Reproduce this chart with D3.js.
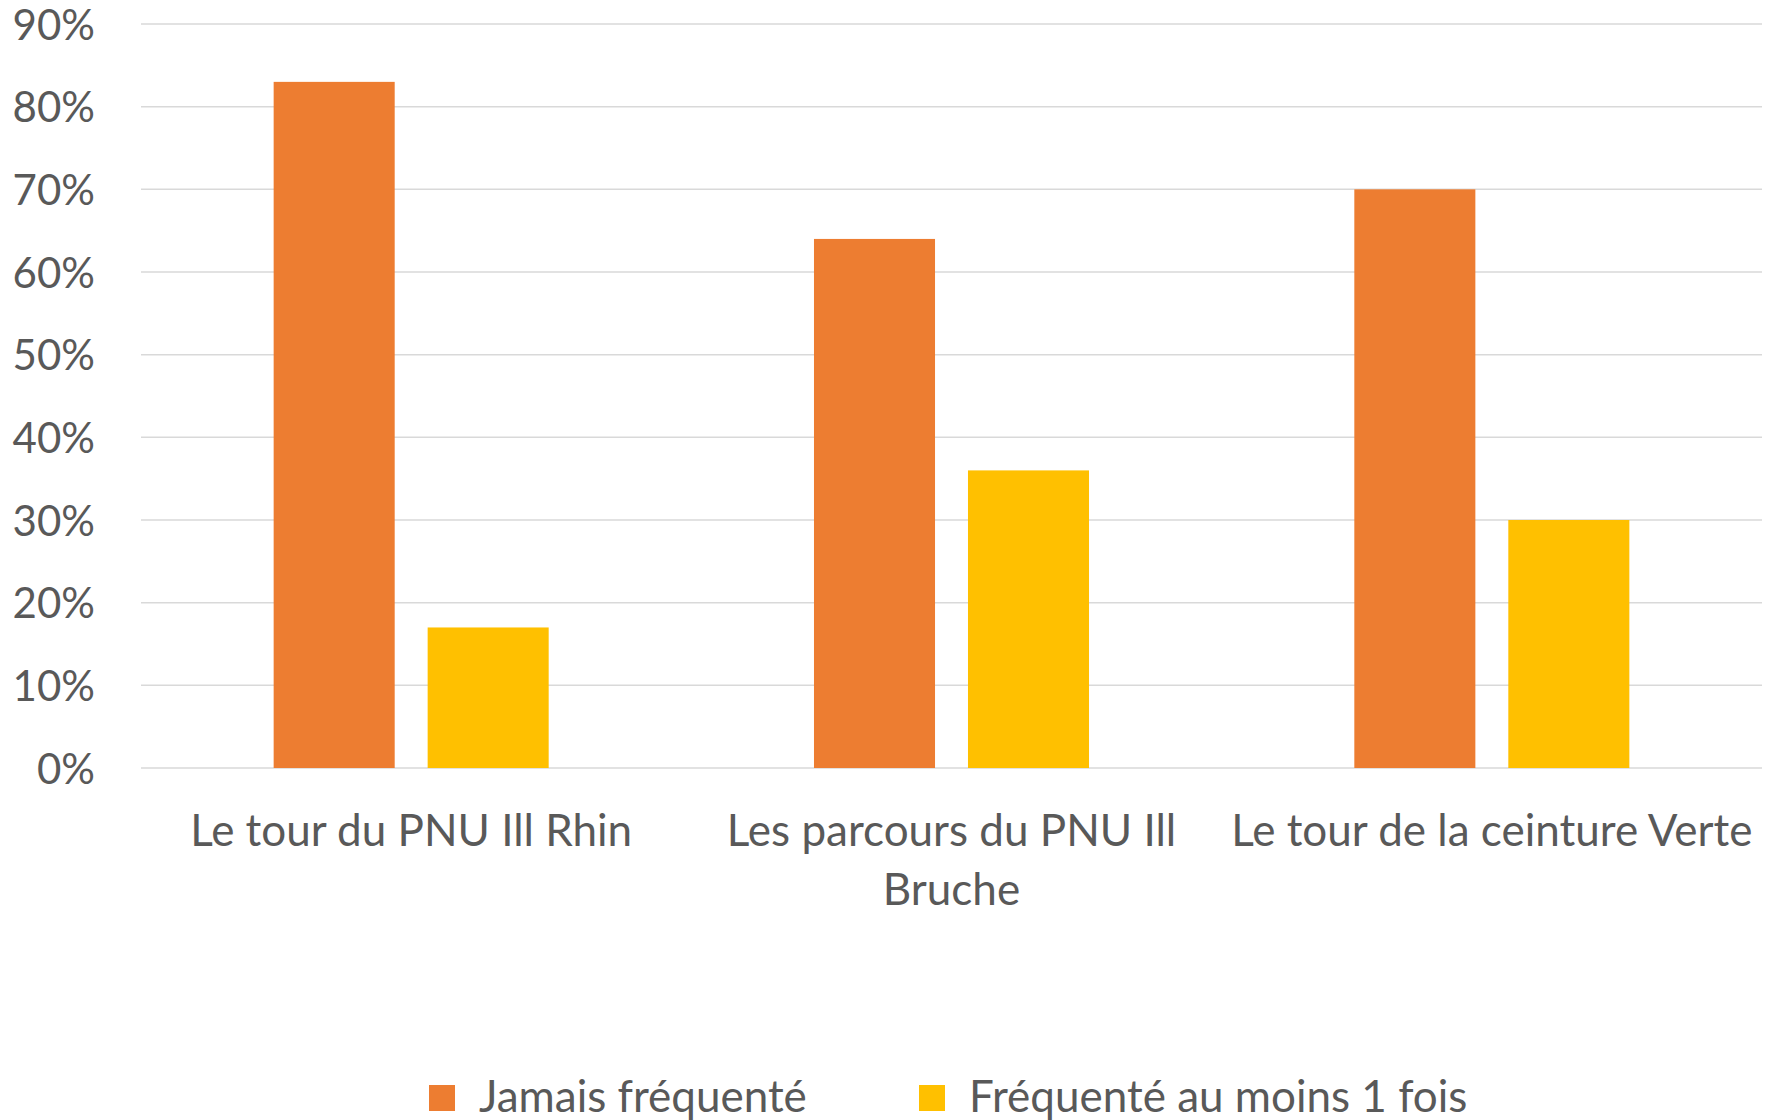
<!DOCTYPE html>
<html>
<head>
<meta charset="utf-8">
<script src="https://cdn.jsdelivr.net/npm/d3@7"></script>
<style>
  html, body { margin: 0; padding: 0; background: #fff; }
  text { font-family: Lato, "Open Sans", sans-serif; fill: #595959; }
</style>
</head>
<body>
<svg id="chart" width="1767" height="1120"></svg>
<script>
// chart data
var categories = ['Le tour du PNU Ill Rhin', 'Les parcours du PNU Ill Bruche', 'Le tour de la ceinture Verte'];
var categoryLines = [['Le tour du PNU Ill Rhin'], ['Les parcours du PNU Ill', 'Bruche'], ['Le tour de la ceinture Verte']];
var seriesNames = ['Jamais fréquenté', 'Fréquenté au moins 1 fois'];
var jamais = [83, 64, 70];
var auMoins = [17, 36, 30];
var yTicks = [0, 10, 20, 30, 40, 50, 60, 70, 80, 90];
var colors = ['#ED7D31', '#FFC000'];

var margins = { left: 141, right: 5, top: 24, bottom: 352 };
var width = 1767, height = 1120;

var svg = d3.select('#chart');

var x0 = d3.scaleBand()
  .domain(categories)
  .range([margins.left, width - margins.right])
  .paddingInner(0.491)
  .paddingOuter(0.2455);

var x1 = d3.scaleBand()
  .domain(seriesNames)
  .range([0, x0.bandwidth()])
  .paddingInner(0.214);

var y = d3.scaleLinear()
  .domain([0, 90])
  .range([height - margins.bottom, margins.top]);

// grid
var grid = svg.append('g').attr('class', 'grid');
grid.selectAll('line')
  .data(yTicks)
  .enter().append('line')
  .attr('x1', margins.left)
  .attr('x2', width - margins.right)
  .attr('y1', function(d) { return y(d); })
  .attr('y2', function(d) { return y(d); })
  .style('stroke', '#D9D9D9')
  .style('stroke-width', 1.5);

// y axis labels
var yAxis = d3.axisLeft(y)
  .tickValues(yTicks)
  .tickFormat(function(d) { return d + '%'; })
  .tickSize(0)
  .tickPadding(0);

var ya = svg.append('g')
  .attr('transform', 'translate(95,0)')
  .call(yAxis);
ya.select('.domain').remove();
ya.selectAll('text')
  .attr('font-size', 42)
  .attr('font-family', 'Lato, sans-serif')
  .attr('dy', '0.36em')
  .style('fill', '#595959');

// bars
var rows = categories.map(function(c, i) {
  return { cat: c, values: [jamais[i], auMoins[i]] };
});

var groups = svg.selectAll('.group')
  .data(rows)
  .enter().append('g')
  .attr('class', 'group')
  .attr('transform', function(d) { return 'translate(' + x0(d.cat) + ',0)'; });

groups.selectAll('rect')
  .data(function(d) { return d.values.map(function(v, j) { return { name: seriesNames[j], value: v, j: j }; }); })
  .enter().append('rect')
  .attr('x', function(d) { return x1(d.name); })
  .attr('width', x1.bandwidth())
  .attr('y', function(d) { return y(d.value); })
  .attr('height', function(d) { return y(0) - y(d.value); })
  .style('fill', function(d) { return colors[d.j]; });

// category labels
var catLabels = svg.selectAll('.cat')
  .data(categories)
  .enter().append('text')
  .attr('class', 'cat')
  .attr('text-anchor', 'middle')
  .attr('font-size', 44)
  .attr('x', function(d) { return x0(d) + x0.bandwidth() / 2; })
  .attr('y', 846);

catLabels.selectAll('tspan')
  .data(function(d, i) { return categoryLines[i]; })
  .enter().append('tspan')
  .attr('x', function() { var c = d3.select(this.parentNode).datum(); return x0(c) + x0.bandwidth() / 2; })
  .attr('dy', function(d, i) { return i === 0 ? 0 : 59; })
  .text(function(d) { return d; });

// legend
var legendX = [429, 919];
var legend = svg.selectAll('.legend')
  .data(seriesNames)
  .enter().append('g')
  .attr('class', 'legend')
  .attr('transform', function(d, i) { return 'translate(' + legendX[i] + ',1085)'; });

legend.append('rect')
  .attr('width', 26)
  .attr('height', 26)
  .style('fill', function(d, i) { return colors[i]; });

legend.append('text')
  .attr('x', 50)
  .attr('y', 27)
  .attr('font-size', 44)
  .text(function(d) { return d; });
</script>
</body>
</html>
